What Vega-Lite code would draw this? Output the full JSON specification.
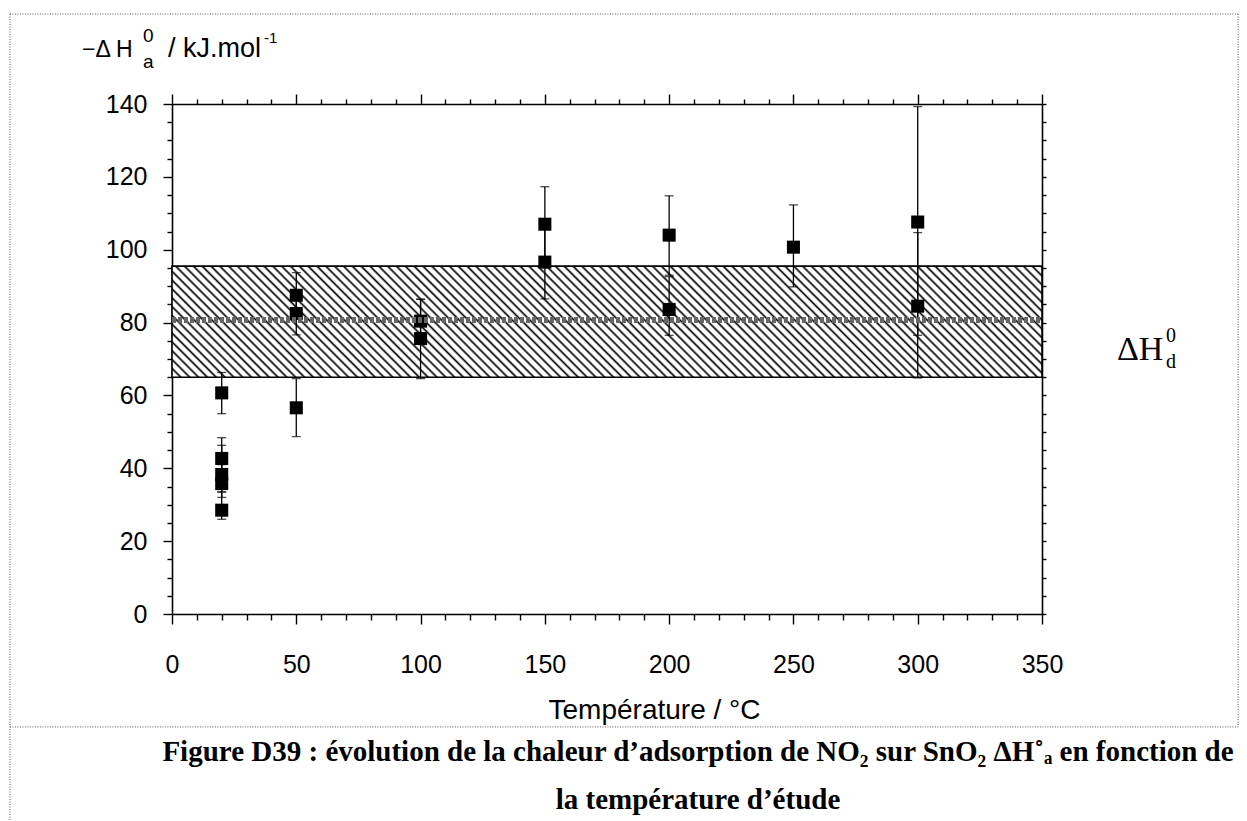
{
  "$schema": "https://vega.github.io/schema/vega-lite/v6.json",
  "width": 870,
  "height": 510,
  "autosize": {"type": "none"},
  "padding": {"left": 172, "top": 104, "right": 205, "bottom": 207},
  "background": "white",
  "config": {
    "view": {"stroke": null},
    "axis": {"grid": false, "domainColor": "#000", "domainWidth": 1.6, "tickColor": "#000", "tickWidth": 1.4, "labelColor": "#000", "labelFont": "Liberation Sans", "labelFontSize": 25, "titleColor": "#000", "titleFont": "Liberation Sans", "titleFontSize": 28, "titleFontWeight": "normal", "labelFlush": false, "labelOverlap": false}
  },
  "datasets": {
    "pts": [
      {"t": 20, "h": 60.7, "lo": 55, "hi": 66.3},
      {"t": 20, "h": 42.7, "lo": 39, "hi": 48.4},
      {"t": 20, "h": 38.3, "lo": 33.5, "hi": 46.3},
      {"t": 20, "h": 35.8, "lo": 32, "hi": 41},
      {"t": 20, "h": 28.5, "lo": 26, "hi": 33.5},
      {"t": 50, "h": 87.5, "lo": 81.3, "hi": 93.7},
      {"t": 50, "h": 82.5, "lo": 76.6, "hi": 88.5},
      {"t": 50, "h": 56.6, "lo": 48.7, "hi": 64.6},
      {"t": 100, "h": 80.4, "lo": 74.5, "hi": 86.4},
      {"t": 100, "h": 75.6, "lo": 64.6, "hi": 86.4},
      {"t": 150, "h": 107, "lo": 97, "hi": 117.3},
      {"t": 150, "h": 96.6, "lo": 86.5, "hi": 106.7},
      {"t": 200, "h": 104, "lo": 93, "hi": 114.8},
      {"t": 200, "h": 83.6, "lo": 76.5, "hi": 92.6},
      {"t": 250, "h": 100.7, "lo": 89.8, "hi": 112.3},
      {"t": 300, "h": 107.6, "lo": 76.5, "hi": 139.3},
      {"t": 300, "h": 84.5, "lo": 64.8, "hi": 104.7}
    ],
    "band": [{"lo": 65, "hi": 95.5, "mean": 80.7}]
  },
  "layer": [
    {
      "data": {"name": "band"},
      "mark": {"type": "rect", "stroke": "#000", "strokeWidth": 1.6, "fill": {"gradient": "linear", "x1": 0, "y1": 1, "x2": 1.1096, "y2": 0.8583, "stops": [
        {"offset":0,"color":"#000"},{"offset":0.0024,"color":"#fff"},
        {"offset":0.0066,"color":"#fff"},{"offset":0.009,"color":"#000"},{"offset":0.0114,"color":"#fff"},
        {"offset":0.0156,"color":"#fff"},{"offset":0.018,"color":"#000"},{"offset":0.0204,"color":"#fff"},
        {"offset":0.0246,"color":"#fff"},{"offset":0.027,"color":"#000"},{"offset":0.0294,"color":"#fff"},
        {"offset":0.0336,"color":"#fff"},{"offset":0.036,"color":"#000"},{"offset":0.0384,"color":"#fff"},
        {"offset":0.0426,"color":"#fff"},{"offset":0.045,"color":"#000"},{"offset":0.0474,"color":"#fff"},
        {"offset":0.0516,"color":"#fff"},{"offset":0.054,"color":"#000"},{"offset":0.0564,"color":"#fff"},
        {"offset":0.0606,"color":"#fff"},{"offset":0.063,"color":"#000"},{"offset":0.0654,"color":"#fff"},
        {"offset":0.0696,"color":"#fff"},{"offset":0.072,"color":"#000"},{"offset":0.0744,"color":"#fff"},
        {"offset":0.0786,"color":"#fff"},{"offset":0.081,"color":"#000"},{"offset":0.0834,"color":"#fff"},
        {"offset":0.0876,"color":"#fff"},{"offset":0.09,"color":"#000"},{"offset":0.0924,"color":"#fff"},
        {"offset":0.0966,"color":"#fff"},{"offset":0.099,"color":"#000"},{"offset":0.1014,"color":"#fff"},
        {"offset":0.1056,"color":"#fff"},{"offset":0.108,"color":"#000"},{"offset":0.1104,"color":"#fff"},
        {"offset":0.1146,"color":"#fff"},{"offset":0.117,"color":"#000"},{"offset":0.1194,"color":"#fff"},
        {"offset":0.1236,"color":"#fff"},{"offset":0.126,"color":"#000"},{"offset":0.1284,"color":"#fff"},
        {"offset":0.1326,"color":"#fff"},{"offset":0.135,"color":"#000"},{"offset":0.1374,"color":"#fff"},
        {"offset":0.1416,"color":"#fff"},{"offset":0.144,"color":"#000"},{"offset":0.1464,"color":"#fff"},
        {"offset":0.1506,"color":"#fff"},{"offset":0.153,"color":"#000"},{"offset":0.1554,"color":"#fff"},
        {"offset":0.1596,"color":"#fff"},{"offset":0.162,"color":"#000"},{"offset":0.1644,"color":"#fff"},
        {"offset":0.1686,"color":"#fff"},{"offset":0.171,"color":"#000"},{"offset":0.1734,"color":"#fff"},
        {"offset":0.1776,"color":"#fff"},{"offset":0.18,"color":"#000"},{"offset":0.1824,"color":"#fff"},
        {"offset":0.1866,"color":"#fff"},{"offset":0.189,"color":"#000"},{"offset":0.1914,"color":"#fff"},
        {"offset":0.1956,"color":"#fff"},{"offset":0.198,"color":"#000"},{"offset":0.2004,"color":"#fff"},
        {"offset":0.2046,"color":"#fff"},{"offset":0.207,"color":"#000"},{"offset":0.2094,"color":"#fff"},
        {"offset":0.2136,"color":"#fff"},{"offset":0.216,"color":"#000"},{"offset":0.2184,"color":"#fff"},
        {"offset":0.2226,"color":"#fff"},{"offset":0.225,"color":"#000"},{"offset":0.2274,"color":"#fff"},
        {"offset":0.2316,"color":"#fff"},{"offset":0.234,"color":"#000"},{"offset":0.2364,"color":"#fff"},
        {"offset":0.2406,"color":"#fff"},{"offset":0.243,"color":"#000"},{"offset":0.2454,"color":"#fff"},
        {"offset":0.2496,"color":"#fff"},{"offset":0.252,"color":"#000"},{"offset":0.2544,"color":"#fff"},
        {"offset":0.2586,"color":"#fff"},{"offset":0.261,"color":"#000"},{"offset":0.2634,"color":"#fff"},
        {"offset":0.2676,"color":"#fff"},{"offset":0.27,"color":"#000"},{"offset":0.2724,"color":"#fff"},
        {"offset":0.2766,"color":"#fff"},{"offset":0.279,"color":"#000"},{"offset":0.2814,"color":"#fff"},
        {"offset":0.2856,"color":"#fff"},{"offset":0.288,"color":"#000"},{"offset":0.2904,"color":"#fff"},
        {"offset":0.2946,"color":"#fff"},{"offset":0.297,"color":"#000"},{"offset":0.2994,"color":"#fff"},
        {"offset":0.3036,"color":"#fff"},{"offset":0.306,"color":"#000"},{"offset":0.3084,"color":"#fff"},
        {"offset":0.3126,"color":"#fff"},{"offset":0.315,"color":"#000"},{"offset":0.3174,"color":"#fff"},
        {"offset":0.3216,"color":"#fff"},{"offset":0.324,"color":"#000"},{"offset":0.3264,"color":"#fff"},
        {"offset":0.3306,"color":"#fff"},{"offset":0.333,"color":"#000"},{"offset":0.3354,"color":"#fff"},
        {"offset":0.3396,"color":"#fff"},{"offset":0.342,"color":"#000"},{"offset":0.3444,"color":"#fff"},
        {"offset":0.3486,"color":"#fff"},{"offset":0.351,"color":"#000"},{"offset":0.3534,"color":"#fff"},
        {"offset":0.3576,"color":"#fff"},{"offset":0.36,"color":"#000"},{"offset":0.3624,"color":"#fff"},
        {"offset":0.3666,"color":"#fff"},{"offset":0.369,"color":"#000"},{"offset":0.3714,"color":"#fff"},
        {"offset":0.3756,"color":"#fff"},{"offset":0.378,"color":"#000"},{"offset":0.3804,"color":"#fff"},
        {"offset":0.3846,"color":"#fff"},{"offset":0.387,"color":"#000"},{"offset":0.3894,"color":"#fff"},
        {"offset":0.3936,"color":"#fff"},{"offset":0.396,"color":"#000"},{"offset":0.3984,"color":"#fff"},
        {"offset":0.4026,"color":"#fff"},{"offset":0.405,"color":"#000"},{"offset":0.4074,"color":"#fff"},
        {"offset":0.4116,"color":"#fff"},{"offset":0.414,"color":"#000"},{"offset":0.4164,"color":"#fff"},
        {"offset":0.4206,"color":"#fff"},{"offset":0.423,"color":"#000"},{"offset":0.4254,"color":"#fff"},
        {"offset":0.4296,"color":"#fff"},{"offset":0.432,"color":"#000"},{"offset":0.4344,"color":"#fff"},
        {"offset":0.4386,"color":"#fff"},{"offset":0.441,"color":"#000"},{"offset":0.4434,"color":"#fff"},
        {"offset":0.4476,"color":"#fff"},{"offset":0.45,"color":"#000"},{"offset":0.4524,"color":"#fff"},
        {"offset":0.4566,"color":"#fff"},{"offset":0.459,"color":"#000"},{"offset":0.4614,"color":"#fff"},
        {"offset":0.4656,"color":"#fff"},{"offset":0.468,"color":"#000"},{"offset":0.4704,"color":"#fff"},
        {"offset":0.4746,"color":"#fff"},{"offset":0.477,"color":"#000"},{"offset":0.4794,"color":"#fff"},
        {"offset":0.4836,"color":"#fff"},{"offset":0.486,"color":"#000"},{"offset":0.4884,"color":"#fff"},
        {"offset":0.4926,"color":"#fff"},{"offset":0.495,"color":"#000"},{"offset":0.4974,"color":"#fff"},
        {"offset":0.5016,"color":"#fff"},{"offset":0.504,"color":"#000"},{"offset":0.5064,"color":"#fff"},
        {"offset":0.5106,"color":"#fff"},{"offset":0.513,"color":"#000"},{"offset":0.5154,"color":"#fff"},
        {"offset":0.5196,"color":"#fff"},{"offset":0.522,"color":"#000"},{"offset":0.5244,"color":"#fff"},
        {"offset":0.5286,"color":"#fff"},{"offset":0.531,"color":"#000"},{"offset":0.5334,"color":"#fff"},
        {"offset":0.5376,"color":"#fff"},{"offset":0.54,"color":"#000"},{"offset":0.5424,"color":"#fff"},
        {"offset":0.5466,"color":"#fff"},{"offset":0.549,"color":"#000"},{"offset":0.5514,"color":"#fff"},
        {"offset":0.5556,"color":"#fff"},{"offset":0.558,"color":"#000"},{"offset":0.5604,"color":"#fff"},
        {"offset":0.5646,"color":"#fff"},{"offset":0.567,"color":"#000"},{"offset":0.5694,"color":"#fff"},
        {"offset":0.5736,"color":"#fff"},{"offset":0.576,"color":"#000"},{"offset":0.5784,"color":"#fff"},
        {"offset":0.5826,"color":"#fff"},{"offset":0.585,"color":"#000"},{"offset":0.5874,"color":"#fff"},
        {"offset":0.5916,"color":"#fff"},{"offset":0.594,"color":"#000"},{"offset":0.5964,"color":"#fff"},
        {"offset":0.6006,"color":"#fff"},{"offset":0.603,"color":"#000"},{"offset":0.6054,"color":"#fff"},
        {"offset":0.6096,"color":"#fff"},{"offset":0.612,"color":"#000"},{"offset":0.6144,"color":"#fff"},
        {"offset":0.6186,"color":"#fff"},{"offset":0.621,"color":"#000"},{"offset":0.6234,"color":"#fff"},
        {"offset":0.6276,"color":"#fff"},{"offset":0.63,"color":"#000"},{"offset":0.6324,"color":"#fff"},
        {"offset":0.6366,"color":"#fff"},{"offset":0.639,"color":"#000"},{"offset":0.6414,"color":"#fff"},
        {"offset":0.6456,"color":"#fff"},{"offset":0.648,"color":"#000"},{"offset":0.6504,"color":"#fff"},
        {"offset":0.6546,"color":"#fff"},{"offset":0.657,"color":"#000"},{"offset":0.6594,"color":"#fff"},
        {"offset":0.6636,"color":"#fff"},{"offset":0.666,"color":"#000"},{"offset":0.6684,"color":"#fff"},
        {"offset":0.6726,"color":"#fff"},{"offset":0.675,"color":"#000"},{"offset":0.6774,"color":"#fff"},
        {"offset":0.6816,"color":"#fff"},{"offset":0.684,"color":"#000"},{"offset":0.6864,"color":"#fff"},
        {"offset":0.6906,"color":"#fff"},{"offset":0.693,"color":"#000"},{"offset":0.6954,"color":"#fff"},
        {"offset":0.6996,"color":"#fff"},{"offset":0.702,"color":"#000"},{"offset":0.7044,"color":"#fff"},
        {"offset":0.7086,"color":"#fff"},{"offset":0.711,"color":"#000"},{"offset":0.7134,"color":"#fff"},
        {"offset":0.7176,"color":"#fff"},{"offset":0.72,"color":"#000"},{"offset":0.7224,"color":"#fff"},
        {"offset":0.7266,"color":"#fff"},{"offset":0.729,"color":"#000"},{"offset":0.7314,"color":"#fff"},
        {"offset":0.7356,"color":"#fff"},{"offset":0.738,"color":"#000"},{"offset":0.7404,"color":"#fff"},
        {"offset":0.7446,"color":"#fff"},{"offset":0.747,"color":"#000"},{"offset":0.7494,"color":"#fff"},
        {"offset":0.7536,"color":"#fff"},{"offset":0.756,"color":"#000"},{"offset":0.7584,"color":"#fff"},
        {"offset":0.7626,"color":"#fff"},{"offset":0.765,"color":"#000"},{"offset":0.7674,"color":"#fff"},
        {"offset":0.7716,"color":"#fff"},{"offset":0.774,"color":"#000"},{"offset":0.7764,"color":"#fff"},
        {"offset":0.7806,"color":"#fff"},{"offset":0.783,"color":"#000"},{"offset":0.7854,"color":"#fff"},
        {"offset":0.7896,"color":"#fff"},{"offset":0.792,"color":"#000"},{"offset":0.7944,"color":"#fff"},
        {"offset":0.7986,"color":"#fff"},{"offset":0.801,"color":"#000"},{"offset":0.8034,"color":"#fff"},
        {"offset":0.8076,"color":"#fff"},{"offset":0.81,"color":"#000"},{"offset":0.8124,"color":"#fff"},
        {"offset":0.8166,"color":"#fff"},{"offset":0.819,"color":"#000"},{"offset":0.8214,"color":"#fff"},
        {"offset":0.8256,"color":"#fff"},{"offset":0.828,"color":"#000"},{"offset":0.8304,"color":"#fff"},
        {"offset":0.8346,"color":"#fff"},{"offset":0.837,"color":"#000"},{"offset":0.8394,"color":"#fff"},
        {"offset":0.8436,"color":"#fff"},{"offset":0.846,"color":"#000"},{"offset":0.8484,"color":"#fff"},
        {"offset":0.8526,"color":"#fff"},{"offset":0.855,"color":"#000"},{"offset":0.8574,"color":"#fff"},
        {"offset":0.8616,"color":"#fff"},{"offset":0.864,"color":"#000"},{"offset":0.8664,"color":"#fff"},
        {"offset":0.8706,"color":"#fff"},{"offset":0.873,"color":"#000"},{"offset":0.8754,"color":"#fff"},
        {"offset":0.8796,"color":"#fff"},{"offset":0.882,"color":"#000"},{"offset":0.8844,"color":"#fff"},
        {"offset":0.8886,"color":"#fff"},{"offset":0.891,"color":"#000"},{"offset":0.8934,"color":"#fff"},
        {"offset":0.8976,"color":"#fff"},{"offset":0.9,"color":"#000"},{"offset":0.9024,"color":"#fff"},
        {"offset":0.9066,"color":"#fff"},{"offset":0.909,"color":"#000"},{"offset":0.9114,"color":"#fff"},
        {"offset":0.9156,"color":"#fff"},{"offset":0.918,"color":"#000"},{"offset":0.9204,"color":"#fff"},
        {"offset":0.9246,"color":"#fff"},{"offset":0.927,"color":"#000"},{"offset":0.9294,"color":"#fff"},
        {"offset":0.9336,"color":"#fff"},{"offset":0.936,"color":"#000"},{"offset":0.9384,"color":"#fff"},
        {"offset":0.9426,"color":"#fff"},{"offset":0.945,"color":"#000"},{"offset":0.9474,"color":"#fff"},
        {"offset":0.9516,"color":"#fff"},{"offset":0.954,"color":"#000"},{"offset":0.9564,"color":"#fff"},
        {"offset":0.9606,"color":"#fff"},{"offset":0.963,"color":"#000"},{"offset":0.9654,"color":"#fff"},
        {"offset":0.9696,"color":"#fff"},{"offset":0.972,"color":"#000"},{"offset":0.9744,"color":"#fff"},
        {"offset":0.9786,"color":"#fff"},{"offset":0.981,"color":"#000"},{"offset":0.9834,"color":"#fff"},
        {"offset":0.9876,"color":"#fff"},{"offset":0.99,"color":"#000"},{"offset":0.9924,"color":"#fff"},
        {"offset":0.9966,"color":"#fff"},{"offset":0.999,"color":"#000"},{"offset":1,"color":"#fff"}
      ]}},
      "encoding": {
        "x": {"datum": 0, "type": "quantitative", "axis": {"orient": "top", "values": [0,10,20,30,40,50,60,70,80,90,100,110,120,130,140,150,160,170,180,190,200,210,220,230,240,250,260,270,280,290,300,310,320,330,340,350], "labels": false, "title": null, "tickSize": {"condition": {"test": "datum.value % 50 === 0", "value": 10}, "value": 5}}},
        "x2": {"datum": 350},
        "y": {"field": "lo", "type": "quantitative", "axis": {"orient": "right", "values": [0,5,10,15,20,25,30,35,40,45,50,55,60,65,70,75,80,85,90,95,100,105,110,115,120,125,130,135,140], "labels": false, "title": null, "tickSize": 4}},
        "y2": {"field": "hi"}
      }
    },
    {
      "data": {"name": "pts"},
      "mark": {"type": "errorbar", "ticks": true, "color": "#000", "thickness": 1.3, "size": 9},
      "encoding": {
        "x": {"field": "t", "type": "quantitative", "axis": null},
        "y": {"field": "lo", "type": "quantitative", "axis": null},
        "y2": {"field": "hi"}
      }
    },
    {
      "data": {"name": "pts"},
      "mark": {"type": "point", "shape": "square", "filled": true, "size": 170, "color": "#000", "opacity": 1},
      "encoding": {
        "x": {"field": "t", "type": "quantitative", "scale": {"domain": [0, 350], "nice": false, "zero": false}, "axis": {"orient": "bottom", "values": [0,10,20,30,40,50,60,70,80,90,100,110,120,130,140,150,160,170,180,190,200,210,220,230,240,250,260,270,280,290,300,310,320,330,340,350], "labelExpr": "datum.value % 50 === 0 ? datum.label : ''", "tickSize": {"condition": {"test": "datum.value % 50 === 0", "value": 10}, "value": 6}, "labelPadding": 28, "title": "Température / °C", "titleX": 482, "titleY": 96, "titleAlign": "center", "titleBaseline": "middle"}},
        "y": {"field": "h", "type": "quantitative", "scale": {"domain": [0, 140], "nice": false, "zero": false}, "axis": {"orient": "left", "values": [0,5,10,15,20,25,30,35,40,45,50,55,60,65,70,75,80,85,90,95,100,105,110,115,120,125,130,135,140], "labelExpr": "datum.value % 20 === 0 ? datum.label : ''", "tickSize": {"condition": {"test": "datum.value % 20 === 0", "value": 9}, "value": 5}, "labelPadding": 16, "title": null}}
      }
    },
    {
      "data": {"name": "band"},
      "mark": {"type": "rule", "color": "#666", "strokeWidth": 6, "strokeDash": [4, 2]},
      "encoding": {
        "x": {"datum": 0, "type": "quantitative", "axis": null},
        "x2": {"datum": 350},
        "y": {"field": "mean", "type": "quantitative", "axis": null}
      }
    },
    {
      "data": {"name": "band"},
      "layer": [
        {"mark": {"type": "text", "text": "ΔH", "font": "Liberation Serif", "fontSize": 34, "align": "left", "baseline": "alphabetic", "dx": 75, "dy": 40, "color": "#000"}},
        {"mark": {"type": "text", "text": "0", "font": "Liberation Serif", "fontSize": 20, "align": "left", "baseline": "alphabetic", "dx": 124, "dy": 22, "color": "#000"}},
        {"mark": {"type": "text", "text": "d", "font": "Liberation Serif", "fontSize": 20, "align": "left", "baseline": "alphabetic", "dx": 124, "dy": 48, "color": "#000"}}
      ],
      "encoding": {
        "x": {"datum": 350, "type": "quantitative", "axis": null},
        "y": {"field": "mean", "type": "quantitative", "axis": null}
      }
    },
    {
      "data": {"values": [{}]},
      "layer": [
        {"mark": {"type": "text", "text": "−Δ H", "font": "Liberation Sans", "fontSize": 23, "align": "left", "baseline": "alphabetic", "dx": -90, "dy": -47, "color": "#000"}},
        {"mark": {"type": "text", "text": "0", "font": "Liberation Sans", "fontSize": 19, "align": "left", "baseline": "alphabetic", "dx": -29, "dy": -62, "color": "#000"}},
        {"mark": {"type": "text", "text": "a", "font": "Liberation Sans", "fontSize": 19, "align": "left", "baseline": "alphabetic", "dx": -29, "dy": -36, "color": "#000"}},
        {"mark": {"type": "text", "text": "/ kJ.mol", "font": "Liberation Sans", "fontSize": 27, "align": "left", "baseline": "alphabetic", "dx": -4, "dy": -47, "color": "#000"}},
        {"mark": {"type": "text", "text": "-1", "font": "Liberation Sans", "fontSize": 15, "align": "left", "baseline": "alphabetic", "dx": 92, "dy": -61, "color": "#000"}}
      ],
      "encoding": {
        "x": {"datum": 0, "type": "quantitative", "axis": null},
        "y": {"datum": 140, "type": "quantitative", "axis": null}
      }
    },
    {
      "data": {"values": [{}]},
      "layer": [
        {"mark": {"type": "text", "text": "Figure D39 : évolution de la chaleur d’adsorption de NO₂ sur SnO₂ ΔH˚ₐ en fonction de", "font": "Liberation Serif", "fontWeight": "bold", "fontSize": 29, "align": "center", "baseline": "middle", "dx": 91, "dy": 138, "color": "#000"}},
        {"mark": {"type": "text", "text": "la température d’étude", "font": "Liberation Serif", "fontWeight": "bold", "fontSize": 29, "align": "center", "baseline": "middle", "dx": 91, "dy": 186, "color": "#000"}}
      ],
      "encoding": {
        "x": {"datum": 175, "type": "quantitative", "axis": null},
        "y": {"datum": 0, "type": "quantitative", "axis": null}
      }
    },
    {
      "data": {"values": [{}]},
      "layer": [
        {"mark": {"type": "rule", "color": "#555", "strokeWidth": 1, "strokeDash": [1, 1.5]}, "encoding": {"x": {"datum": -65.2, "type": "quantitative", "axis": null}, "x2": {"datum": 428.9}, "y": {"datum": 164.7, "type": "quantitative", "axis": null}}},
        {"mark": {"type": "rule", "color": "#555", "strokeWidth": 1, "strokeDash": [1, 1.5]}, "encoding": {"x": {"datum": -65.2, "type": "quantitative", "axis": null}, "x2": {"datum": 428.9}, "y": {"datum": -31, "type": "quantitative", "axis": null}}},
        {"mark": {"type": "rule", "color": "#555", "strokeWidth": 1, "strokeDash": [1, 1.5]}, "encoding": {"x": {"datum": -65.2, "type": "quantitative", "axis": null}, "y": {"datum": 164.7, "type": "quantitative", "axis": null}, "y2": {"datum": -57}}},
        {"mark": {"type": "rule", "color": "#555", "strokeWidth": 1, "strokeDash": [1, 1.5]}, "encoding": {"x": {"datum": 428.9, "type": "quantitative", "axis": null}, "y": {"datum": 164.7, "type": "quantitative", "axis": null}, "y2": {"datum": -31}}}
      ]
    }
  ],
  "resolve": {"axis": {"x": "independent", "y": "independent"}}
}
